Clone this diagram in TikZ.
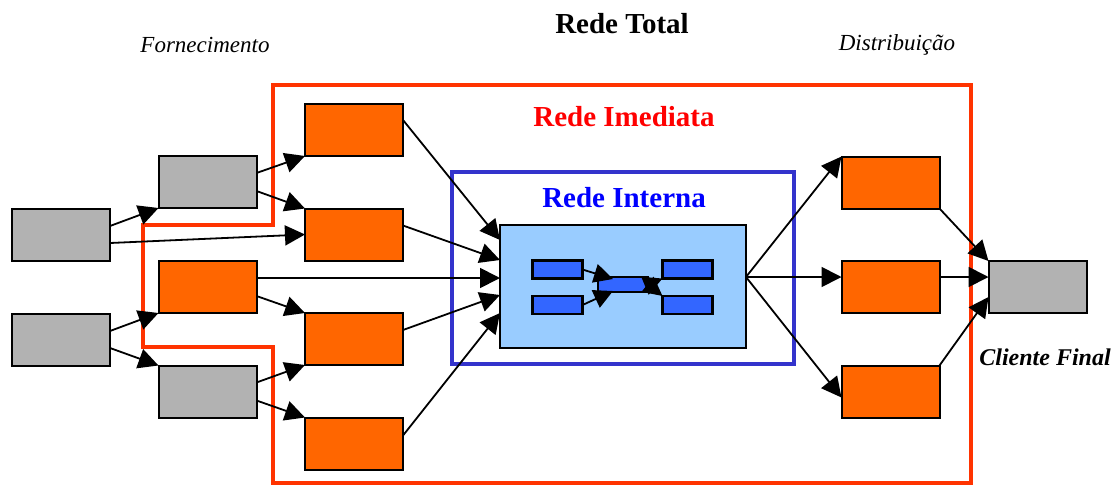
\documentclass[tikz,border=0pt]{standalone}
\usepackage{fontspec}
\setmainfont{Liberation Serif}
\usetikzlibrary{arrows.meta}
\definecolor{orng}{HTML}{FF6600}
\definecolor{gry}{HTML}{B2B2B2}
\definecolor{lblue}{HTML}{99CCFF}
\definecolor{mblue}{HTML}{3366FF}
\definecolor{frameblue}{HTML}{3333CC}
\definecolor{redline}{HTML}{FF3300}
\tikzset{
  box/.style={draw=black, line width=2pt, minimum width=98pt, minimum height=52pt, inner sep=0pt, outer sep=0pt},
  obox/.style={box, fill=orng},
  gbox/.style={box, fill=gry},
  sbox/.style={draw=black, line width=2.2pt, fill=mblue, minimum width=50pt, minimum height=18pt, inner sep=0pt, outer sep=0pt},
  conn/.style={line width=1.8pt, -{Triangle[length=20pt,width=20pt]}},
  sconn/.style={line width=1.8pt, -{Triangle[length=19pt,width=19pt]}},
}
\begin{document}
\begin{tikzpicture}[x=1pt,y=-1pt]
\useasboundingbox (0,0) rectangle (1120,485);
% frames
\draw[redline, line width=4pt] (273,85) -- (971,85) -- (971,483) -- (273,483) -- (273,347) -- (143,347) -- (143,225) -- (273,225) -- cycle;
\node[draw=frameblue, line width=3.5pt, minimum width=342pt, minimum height=192pt, inner sep=0pt] (interna) at (623,268) {};
\node[draw=black, line width=1.5pt, fill=lblue, minimum width=246pt, minimum height=123pt, inner sep=0pt, outer sep=0pt] (core) at (623,286.5) {};
% texts
\node (total) at (622,24) {\fontsize{29}{30}\selectfont\bfseries Rede Total};
\node (forn) at (205,45) {\fontsize{23}{24}\selectfont\itshape Fornecimento};
\node (dist) at (897,45) {\fontsize{23}{24}\selectfont\itshape Distribuição};
\node[text=red] (imed) at (624,117) {\fontsize{29}{30}\selectfont\bfseries Rede Imediata};
\node[text=blue] (intl) at (624,198) {\fontsize{29}{30}\selectfont\bfseries Rede Interna};
\node (clf) at (1045,357) {\fontsize{24}{25}\selectfont\bfseries\itshape Cliente Final};
% boxes
\node[gbox] (a1) at (61,234.5) {};
\node[gbox] (a2) at (61,339.5) {};
\node[gbox] (g1) at (207.5,182) {};
\node[obox] (om) at (207.5,287) {};
\node[gbox] (g2) at (207.5,391.5) {};
\node[obox] (o1) at (354,130) {};
\node[obox] (o2) at (354,234.5) {};
\node[obox] (o3) at (354,339) {};
\node[obox] (o4) at (354,443.5) {};
\node[obox] (r1) at (890.5,182.5) {};
\node[obox] (r2) at (890.5,287) {};
\node[obox] (r3) at (890.5,391.5) {};
\node[gbox] (cli) at (1037.5,287) {};
% inner small boxes
\node[sbox] (s1) at (557.5,269.5) {};
\node[sbox] (s2) at (557.5,305) {};
\node[sbox, minimum height=15pt] (sc) at (623,284.5) {};
\node[sbox] (s3) at (687.5,269.5) {};
\node[sbox] (s4) at (687.5,305) {};
% connectors left
\draw[conn] ([yshift=8.5pt]a1.east) -- (g1.south west);
\draw[conn] ([yshift=-8.5pt]a1.east) -- (o2.west);
\draw[conn] ([yshift=8.5pt]a2.east) -- (om.south west);
\draw[conn] ([yshift=-8.5pt]a2.east) -- (g2.north west);
\draw[conn] ([yshift=9pt]g1.east) -- (o1.south west);
\draw[conn] ([yshift=-9pt]g1.east) -- (o2.north west);
\coordinate (omout) at ([yshift=9pt]om.east);
\draw[conn] (omout) -- (core.west |- omout);
\draw[conn] ([yshift=-9pt]om.east) -- (o3.north west);
\draw[conn] ([yshift=9pt]g2.east) -- (o3.south west);
\draw[conn] ([yshift=-9pt]g2.east) -- (o4.north west);
% into core
\coordinate (c1) at (500,240);
\coordinate (c2) at (500,260);
\coordinate (c4) at (500,295);
\coordinate (c5) at (500,313);
\draw[conn] ([yshift=10pt]o1.east) -- (c1);
\draw[conn] ([yshift=9pt]o2.east) -- (c2);
\draw[conn] ([yshift=9pt]o3.east) -- (c4);
\draw[conn] ([yshift=8pt]o4.east) -- (c5);
% out of core
\coordinate (co) at (746,277);
\draw[conn] (co) -- (r1.north west);
\draw[conn] (co) -- (r2.west |- co);
\draw[conn] (co) -- ([yshift=-6pt]r3.west);
% into client
\draw[conn] (r1.south east) -- (cli.north west);
\draw[conn] (r2.east |- co) -- (cli.west |- co);
\draw[conn] (r3.north east) -- ([yshift=-10pt]cli.west);
% inner arrows
\coordinate (ci1) at (613,279);
\coordinate (ci2) at (613,291);
\draw[sconn] (s1.east) -- (ci1);
\draw[sconn] (s2.east) -- (ci2);
\draw[sconn] (sc.east) -- (s3.south west);
\draw[sconn] (sc.east) -- (s4.north west);
\end{tikzpicture}
\end{document}
